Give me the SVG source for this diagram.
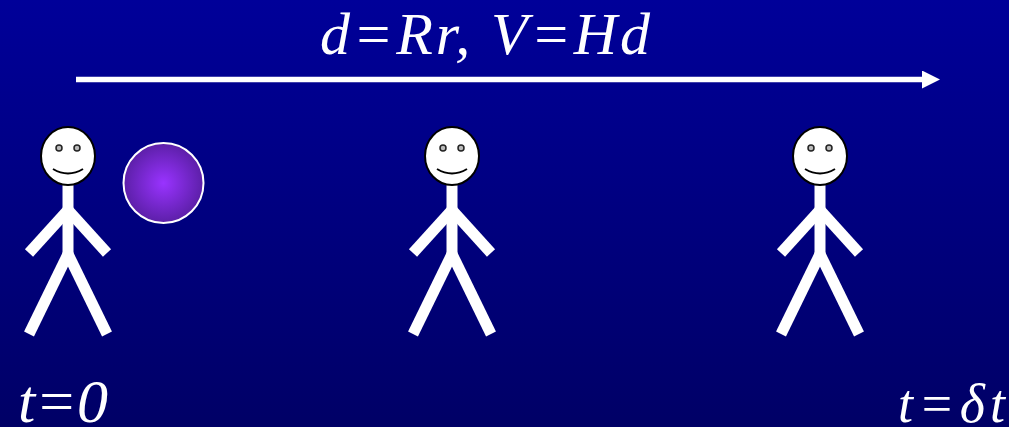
<svg xmlns="http://www.w3.org/2000/svg" width="1009" height="427" viewBox="0 0 1009 427">
  <defs>
    <linearGradient id="bg" x1="0" y1="0" x2="0" y2="1">
      <stop offset="0" stop-color="#000099"/>
      <stop offset="1" stop-color="#000066"/>
    </linearGradient>
    <radialGradient id="glow" cx="0.5" cy="0.5" r="0.5">
      <stop offset="0" stop-color="#9933ff"/>
      <stop offset="1" stop-color="#5c1fa8"/>
    </radialGradient>
    <marker id="head" markerUnits="userSpaceOnUse" markerWidth="20" markerHeight="18" refX="0" refY="9" orient="auto">
      <polygon points="0,0 18,9 0,18" fill="#ffffff"/>
    </marker>
    <!-- one stick person, centred on its head -->
    <g id="person">
      <g stroke="#ffffff" stroke-width="11" fill="none">
        <line x1="0" y1="28" x2="0" y2="99"/>
        <line x1="0" y1="54" x2="-39" y2="97"/>
        <line x1="0" y1="54" x2="39" y2="97"/>
        <line x1="0" y1="98" x2="-39" y2="178"/>
        <line x1="0" y1="98" x2="39" y2="178"/>
      </g>
      <ellipse cx="0" cy="0" rx="27" ry="29" fill="#ffffff" stroke="#000000" stroke-width="2"/>
      <circle cx="-9" cy="-8" r="3" fill="#bbbbbb" stroke="#222222" stroke-width="1.5"/>
      <circle cx="9" cy="-8" r="3" fill="#bbbbbb" stroke="#222222" stroke-width="1.5"/>
      <path d="M -15 13 Q 0 22 15 13" fill="none" stroke="#000000" stroke-width="2"/>
    </g>
  </defs>
  <style>
    .lbl { font-family: "Liberation Serif", "Times New Roman", serif; font-style: italic; fill: #ffffff; }
  </style>

  <rect x="0" y="0" width="1009" height="427" fill="url(#bg)"/>

  <g id="connectors">
    <line x1="76" y1="79.5" x2="922" y2="79.5" stroke="#ffffff" stroke-width="5.5" marker-end="url(#head)"/>
  </g>

  <text class="lbl" x="320" y="54" font-size="60" textLength="330" lengthAdjust="spacing">d=Rr, V=Hd</text>

  <g id="observer-start">
    <use href="#person" x="68" y="156"/>
  </g>
  <g id="photon">
    <circle cx="163.5" cy="183" r="40" fill="url(#glow)" stroke="#ffffff" stroke-width="2"/>
  </g>
  <g id="observer-middle">
    <use href="#person" x="452" y="156"/>
  </g>
  <g id="observer-end">
    <use href="#person" x="820" y="156"/>
  </g>

  <text class="lbl" x="18" y="422" font-size="62" textLength="90" lengthAdjust="spacing">t=0</text>
  <text class="lbl" x="898" y="422" font-size="54" textLength="107" lengthAdjust="spacing">t=δt</text>
</svg>
